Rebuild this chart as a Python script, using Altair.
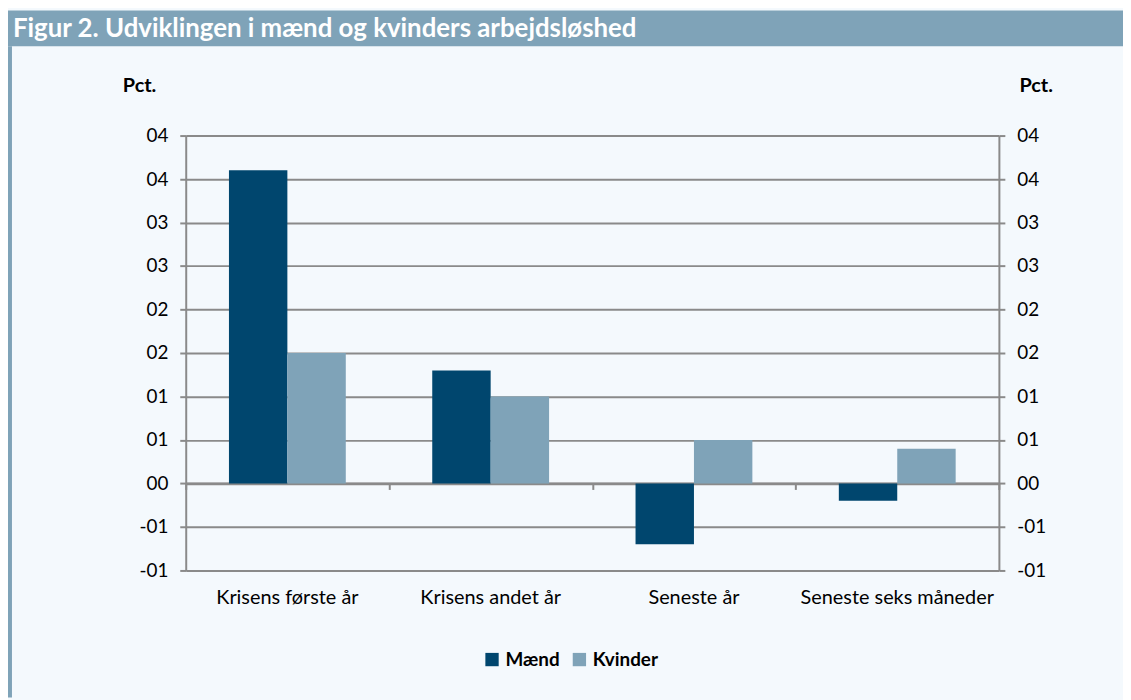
import altair as alt
import pandas as pd

categories = ["Krisens første år", "Krisens andet år", "Seneste år", "Seneste seks måneder"]
series = ["Mænd", "Kvinder"]
maend = [3.6, 1.3, -0.7, -0.2]
kvinder = [1.5, 1.0, 0.5, 0.4]
y_ticks = [-1.0, -0.5, 0.0, 0.5, 1.0, 1.5, 2.0, 2.5, 3.0, 3.5, 4.0]
colors = ["#00466e", "#7fa3b8"]
title_text = "Figur 2. Udviklingen i mænd og kvinders arbejdsløshed"
unit_label = "Pct."

rows = []
for c, m, k in zip(categories, maend, kvinder):
    rows.append({"kategori": c, "serie": "Mænd", "værdi": m})
    rows.append({"kategori": c, "serie": "Kvinder", "værdi": k})
df = pd.DataFrame(rows)

W, H = 819, 438
PAD = {"left": 179, "top": 126, "right": 125, "bottom": 128}
FONT = "Lato"
GRAY = "#8a8a8a"
BAND = "#7fa3b8"

label_expr = "datum.value < 0 ? '-0' + round(abs(datum.value)) : '0' + round(datum.value)"

yscale = alt.Scale(domain=[-1, 4], nice=False, zero=False)
xscale = alt.Scale(domain=categories, paddingInner=0, paddingOuter=0)
offscale = alt.Scale(domain=series, paddingInner=0, paddingOuter=0.74)

one = alt.Data(values=[{"a": 1}])

band = alt.Chart(one).mark_rect(color=BAND).encode(
    x=alt.value(-PAD["left"]), x2=alt.value(W + PAD["right"]),
    y=alt.value(-PAD["top"]), y2=alt.value(-PAD["top"] + 36),
)
border = alt.Chart(one).mark_rect(color=BAND).encode(
    x=alt.value(-PAD["left"]), x2=alt.value(-PAD["left"] + 4),
    y=alt.value(-PAD["top"] + 36), y2=alt.value(H + PAD["bottom"]),
)
title = alt.Chart(one).mark_text(
    text=title_text, font=FONT, fontSize=26, fontWeight="bold", color="white",
    align="left", baseline="middle",
).encode(x=alt.value(-PAD["left"] + 5), y=alt.value(-PAD["top"] + 19))

bars = alt.Chart(df).mark_bar(stroke=None).encode(
    x=alt.X("kategori:N", sort=categories, scale=xscale,
            axis=alt.Axis(orient="bottom", offset=-H / 5, labels=False, title=None,
                          tickBand="extent", tickSize=6, tickWidth=2, tickColor=GRAY,
                          domainColor=GRAY, domainWidth=2.5, grid=False)),
    xOffset=alt.XOffset("serie:N", sort=series, scale=offscale),
    y=alt.Y("værdi:Q", scale=yscale,
            axis=alt.Axis(orient="left", values=y_ticks, labelExpr=label_expr,
                          title=unit_label, titleAngle=0, titleX=-47, titleY=-50,
                          titleAlign="center", titleBaseline="middle",
                          titleFont=FONT, titleFontSize=20, titleFontWeight="bold",
                          titleColor="black",
                          labelFont=FONT, labelFontSize=19, labelColor="black",
                          labelPadding=12, tickSize=6, tickWidth=2, tickColor=GRAY,
                          domainColor=GRAY, domainWidth=2, grid=True,
                          gridColor=GRAY, gridWidth=2)),
    color=alt.Color("serie:N", sort=series,
                    scale=alt.Scale(domain=series, range=colors),
                    legend=alt.Legend(orient="none", legendX=299, legendY=518,
                                      direction="horizontal", title=None,
                                      symbolType="square", symbolSize=180,
                                      symbolStrokeWidth=0,
                                      labelFont=FONT, labelFontSize=19,
                                      labelFontWeight="bold", labelColor="black",
                                      columnPadding=10, labelOffset=4)),
)

bars_right = alt.Chart(df).mark_bar(opacity=0).encode(
    x=alt.X("kategori:N", sort=categories, scale=xscale,
            axis=alt.Axis(orient="bottom", domain=False, ticks=False, title=None,
                          labelFont=FONT, labelFontSize=20, labelColor="black",
                          labelPadding=17, labelAngle=0, labelLimit=400, grid=False)),
    xOffset=alt.XOffset("serie:N", sort=series, scale=offscale),
    y=alt.Y("værdi:Q", scale=yscale,
            axis=alt.Axis(orient="right", values=y_ticks, labelExpr=label_expr,
                          title=unit_label, titleAngle=0, titleX=37, titleY=-50,
                          titleAlign="center", titleBaseline="middle",
                          titleFont=FONT, titleFontSize=20, titleFontWeight="bold",
                          titleColor="black",
                          labelFont=FONT, labelFontSize=19, labelColor="black",
                          labelPadding=12, tickSize=6, tickWidth=2, tickColor=GRAY,
                          domainColor=GRAY, domainWidth=2, grid=False)),
)

chart = alt.layer(band, border, title, bars, bars_right).resolve_axis(
    x="independent", y="independent"
).resolve_scale(x="shared", y="shared").properties(
    width=W, height=H, autosize=alt.AutoSizeParams(type="none"), padding=PAD,
    background="#f4f9fd",
).configure_view(stroke=None)

chart.save("out.html", embed_options={"renderer": "svg", "actions": False})
